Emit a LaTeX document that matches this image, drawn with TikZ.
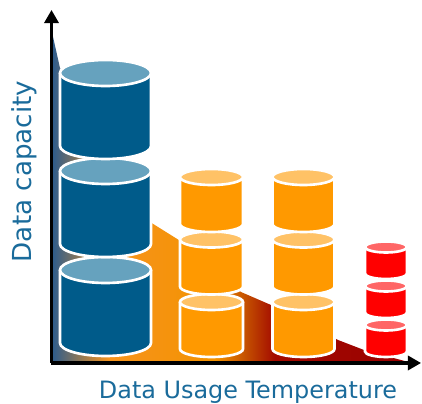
\documentclass[tikz,border=0pt]{standalone}
\usepackage{fontspec}
\setmainfont{DejaVu Sans}
\usepackage{tikz}
\usetikzlibrary{arrows.meta}
\definecolor{tierblue}{HTML}{005B8A}
\definecolor{tierbluetop}{HTML}{66A2BE}
\definecolor{tierorange}{HTML}{FF9900}
\definecolor{tierorangetop}{HTML}{FFC266}
\definecolor{tierred}{HTML}{FF0000}
\definecolor{tierredtop}{HTML}{FF6666}
\definecolor{labelblue}{HTML}{1A6B9B}
\definecolor{coldblue}{HTML}{2B5C8E}
\definecolor{warmorange}{HTML}{F7941D}
\definecolor{hotorange}{HTML}{F39200}
\definecolor{hotbrown}{HTML}{C55200}
\definecolor{hotred}{HTML}{A30A00}
\definecolor{deepred}{HTML}{990000}
% temperature ramp, the path spans 25bp--75bp
\pgfdeclarehorizontalshading{tempramp}{100bp}{%
  color(0bp)=(coldblue); color(25bp)=(coldblue); color(33bp)=(warmorange);
  color(47.7bp)=(hotorange); color(51.8bp)=(hotbrown); color(56bp)=(hotred);
  color(75bp)=(deepred); color(100bp)=(deepred)}
\tikzset{
  axis/.style={line width=2pt, -{Triangle[length=7.5pt, width=8pt]}},
  rim/.style={draw=white, line width=1.5pt},
  lbl/.style={text=labelblue, inner sep=0pt},
}
% one drum of a stack: centre x, top y, height, x radius, y radius, colour
\newcommand{\drum}[6]{%
  \fill[#6] (#1-#4,#2) -- (#1-#4,#2-#3)
    arc[start angle=180, end angle=360, x radius=#4, y radius=#5] -- (#1+#4,#2) -- cycle;
  \draw[rim] (#1-#4,#2) -- (#1-#4,#2-#3)
    arc[start angle=180, end angle=360, x radius=#4, y radius=#5] -- (#1+#4,#2);
  \draw[rim, fill=#6top] (#1,#2) ellipse[x radius=#4, y radius=#5];
}
\begin{document}
\begin{tikzpicture}[scale=0.02]
  \useasboundingbox (0,0) rectangle (422,404);
  \coordinate (origin) at (51.5,41);
  \coordinate (ytip) at (51.5,394);
  \coordinate (xtip) at (421,41);
  % stepped temperature area
  \shade[shading=tempramp] (51.5,374) -- (60,336) -- (150,182) -- (182,162) -- (241,112)
    -- (271,99) -- (338,64) -- (364,54) -- (412,41) -- (51.5,41) -- cycle;
  % storage tiers, drawn bottom drum first
  \foreach \t in {134,233,331} {\drum{105.5}{\t}{73}{45.5}{13}{tierblue}}
  \foreach \t in {102,164.5,227} {\drum{211.5}{\t}{47}{31.5}{8}{tierorange}}
  \foreach \t in {102,164.5,227} {\drum{303.5}{\t}{47}{31}{8}{tierorange}}
  \foreach \t in {79,118,157} {\drum{386}{\t}{26.5}{21}{5.5}{tierred}}
  % axes
  \draw[axis] (origin) -- (ytip);
  \draw[axis] ([xshift=-1pt]origin) -- (xtip);
  \node[lbl, rotate=90, anchor=base] (ylabel) at (31,232.5)
    {\fontsize{14.9}{17}\selectfont Data capacity};
  \node[lbl, anchor=base] (xlabel) at (248,5)
    {\fontsize{13.6}{16}\selectfont Data Usage Temperature};
\end{tikzpicture}
\end{document}
